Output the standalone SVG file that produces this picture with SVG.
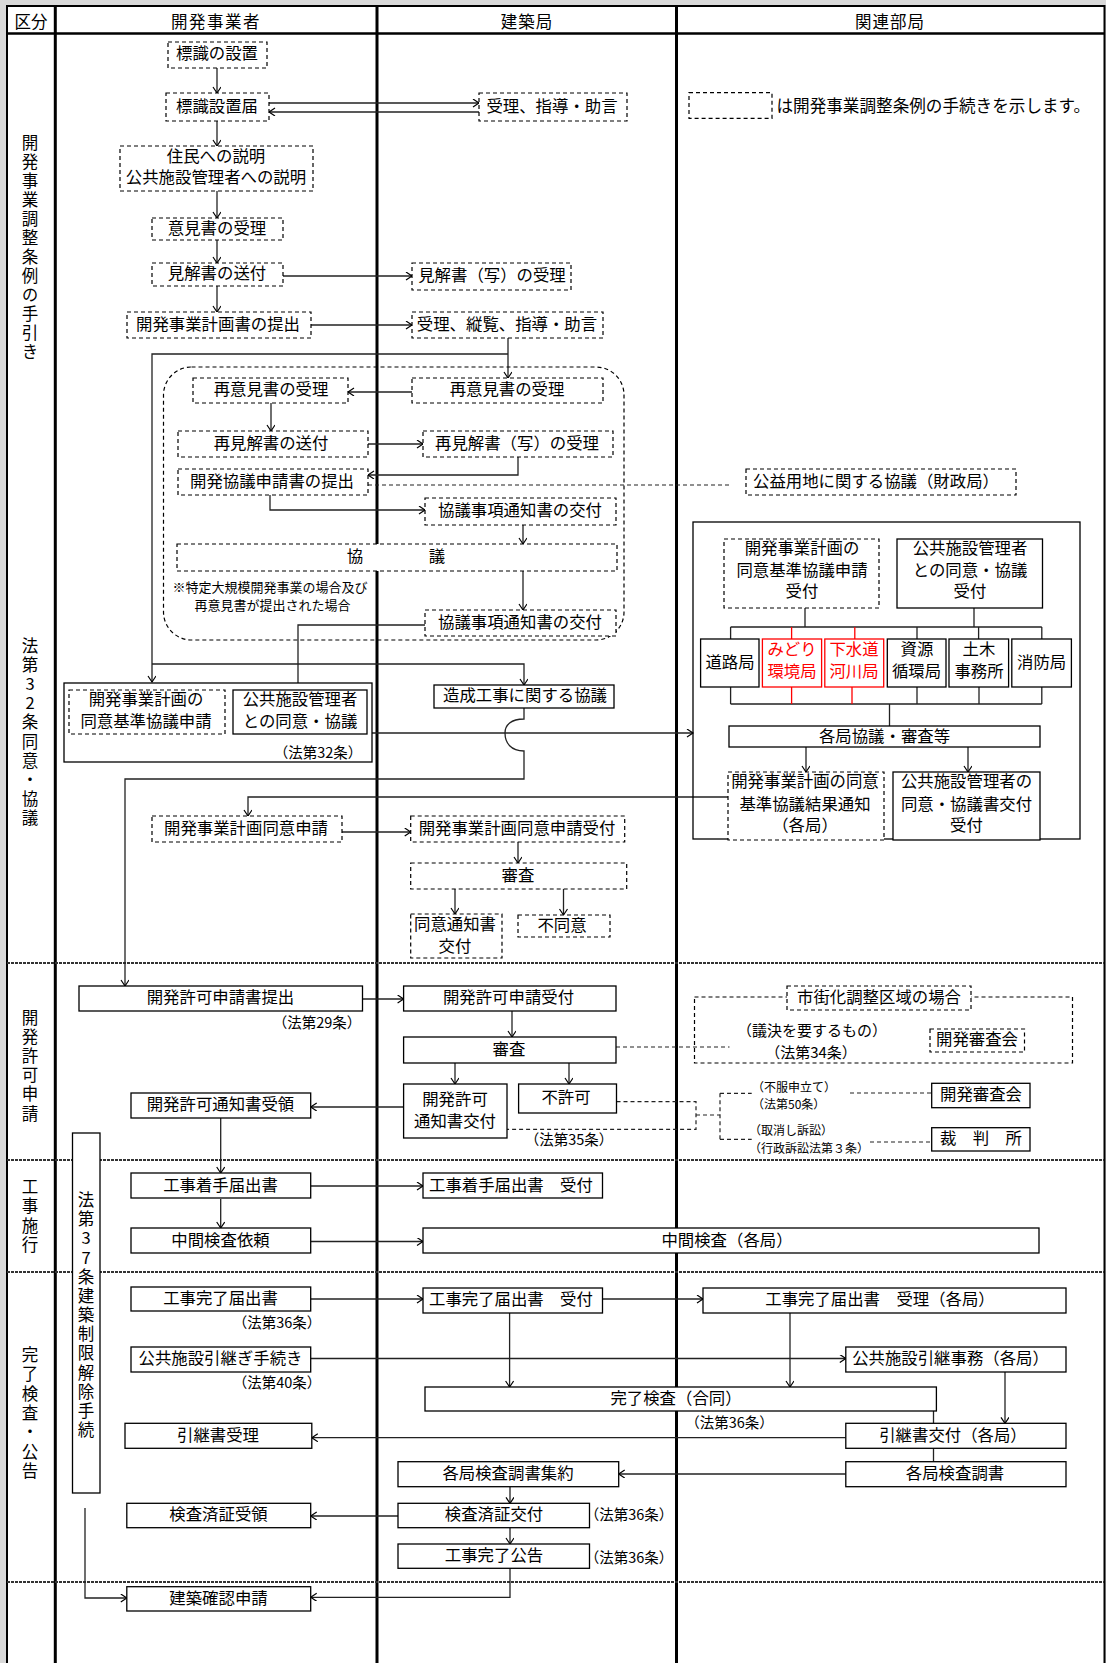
<svg xmlns="http://www.w3.org/2000/svg" width="1106" height="1663" viewBox="0 0 1106 1663">
<defs>
<style>
text{font-family:'Noto Sans CJK JP','Noto Sans CJK SC',sans-serif;fill:#000;dominant-baseline:central}
.t{font-size:16.4px;text-anchor:middle;transform:translateY(-2.5px)}
.ts{font-size:16.4px;text-anchor:start;transform:translateY(-2.5px)}
.h{font-size:16.5px;text-anchor:middle}
.v{font-size:16.5px;text-anchor:start;writing-mode:vertical-rl;text-orientation:upright}
.law{font-size:14.5px;text-anchor:middle;transform:translateY(-2px)}
.sm{font-size:12px;text-anchor:start;transform:translateY(-1px)}
.note{font-size:13px;text-anchor:middle;transform:translateY(-2px)}
.red{fill:#f00}
.b{fill:#fff;stroke:#000;stroke-width:1.3}
.nf{fill:none;stroke:#000;stroke-width:1.3}
.d{fill:#fff;stroke:#000;stroke-width:1.2;stroke-dasharray:4 3}
.dn{fill:none;stroke:#000;stroke-width:1.2;stroke-dasharray:4 3}
.r{fill:#fff;stroke:#f00;stroke-width:1.3}
.c{fill:none;stroke:#222;stroke-width:1.3}
.cr{fill:none;stroke:#f00;stroke-width:1.3}
.cd{fill:none;stroke:#222;stroke-width:1.2;stroke-dasharray:4 3}
.a{marker-end:url(#ar)}
.sep{stroke:#333;stroke-width:2.2;stroke-dasharray:3 1}
.col{stroke:#000;stroke-width:3}
</style>
<marker id="ar" markerUnits="userSpaceOnUse" markerWidth="10" markerHeight="10" refX="7" refY="4" orient="auto">
<path d="M1,0 L7,4 L1,8" fill="none" stroke="#000" stroke-width="1.2"/>
</marker>
</defs>
<rect width="1106" height="1663" fill="#d9d9d9"/>
<rect x="7" y="6" width="1097" height="1657" fill="#fff"/>
<g id="grid">
<line x1="7" y1="6" x2="1105" y2="6" stroke="#000" stroke-width="2"/>
<line x1="7" y1="33.5" x2="1105" y2="33.5" stroke="#000" stroke-width="2.5"/>
<line x1="7" y1="5" x2="7" y2="1663" stroke="#000" stroke-width="2"/>
<line class="col" x1="55.3" y1="5" x2="55.3" y2="1663"/>
<line class="col" x1="377" y1="5" x2="377" y2="1663"/>
<line class="col" x1="676.5" y1="5" x2="676.5" y2="1663"/>
<line x1="1104.5" y1="5" x2="1104.5" y2="1663" stroke="#000" stroke-width="2"/>
<line class="sep" x1="7" y1="963" x2="1104" y2="963"/>
<line class="sep" x1="7" y1="1160" x2="1104" y2="1160"/>
<line class="sep" x1="7" y1="1272" x2="1104" y2="1272"/>
<line class="sep" x1="7" y1="1582" x2="1104" y2="1582"/>
</g>
<g id="header">
<text class="h" x="31" y="21">区分</text>
<text class="h" x="216" y="21" letter-spacing="1.5">開発事業者</text>
<text class="h" x="527" y="21" letter-spacing="1">建築局</text>
<text class="h" x="890" y="21" letter-spacing="1">関連部局</text>
</g>
<g id="section-labels">
<text class="v" x="30" y="134.5" letter-spacing="2.5">開発事業調整条例の手引き</text>
<text class="v" x="30" y="637.5" letter-spacing="2.6">法第32条同意・協議</text>
<text class="v" x="30" y="1009" letter-spacing="2.7">開発許可申請</text>
<text class="v" x="30" y="1178.5" letter-spacing="2.8">工事施行</text>
<text class="v" x="30" y="1346.5" letter-spacing="2.8">完了検査・公告</text>
</g>
<g id="legend">
<rect class="d" x="689" y="92.7" width="83" height="25.6"/>
<text class="ts" x="776.5" y="107" style="font-size:16.6px">は開発事業調整条例の手続きを示します。</text>
</g>
<g id="connectors">
<path class="c a" d="M217,68 V93"/>
<path class="c a" d="M269,103 H479"/>
<path class="c a" d="M479,112 H269"/>
<path class="c a" d="M217,121 V146"/>
<path class="c a" d="M217,191 V218"/>
<path class="c a" d="M217,240 V263"/>
<path class="c a" d="M283,276 H412"/>
<path class="c a" d="M217,286 V312"/>
<path class="c a" d="M311,325 H412"/>
<path class="c a" d="M508,338 V378"/>
<path class="c a" d="M508,354 H152 V682"/>
<path class="c a" d="M152,664 H524 V685"/>
<path class="c a" d="M412,392 H348"/>
<path class="c a" d="M271,403 V431"/>
<path class="c a" d="M368,444 H423"/>
<path class="c a" d="M518,457 V475 H368"/>
<path class="cd" d="M368,485 H731"/>
<path class="c a" d="M270,495 V510 H425"/>
<path class="c a" d="M523,525 V544"/>
<path class="c a" d="M523,571 V610"/>
<path class="c a" d="M425,625 H298 V690"/>
<path class="c a" d="M524,708 V719 C511,719 505,725 505,733 C505,743 511,751 524,751 V779 H125 V986"/>
<path class="c a" d="M372,733 H693"/>
<path class="c" d="M805,608 V627 M974,608 V627 M730.6,627 H1041.8 M730.6,627 V639 M917,627 V639 M978.6,627 V639 M1041.8,627 V639"/>
<path class="cr" d="M791.6,627 V639 M854.8,627 V639"/>
<path class="c" d="M730.6,687 V704 M917,687 V704 M979,687 V704 M1041.8,687 V704 M730.6,704 H1041.8 M889.5,704 V726"/>
<path class="cr" d="M791.6,687 V704 M852,687 V704"/>
<path class="c a" d="M806,747 V772"/>
<path class="c a" d="M968,747 V772"/>
<path class="c a" d="M728,797 H248 V816"/>
<path class="c a" d="M342,832 H410.7"/>
<path class="c a" d="M518,842 V863"/>
<path class="c a" d="M455,889 V914"/>
<path class="c a" d="M563.5,889 V915"/>
<path class="c a" d="M362.5,999 H403.6"/>
<path class="c a" d="M512,1011 V1037"/>
<path class="cd" d="M616,1047 H729.5"/>
<path class="c a" d="M455,1063 V1084"/>
<path class="c a" d="M569,1063 V1084"/>
<path class="c a" d="M403.6,1107 H310.7"/>
<path class="cd" d="M616.5,1101.7 H696 V1129.3 H507 M696,1115 H720 M720,1093.3 V1139.3 M720,1093.3 H751.7 M720,1139.3 H751.7"/>
<path class="cd" d="M850,1093 H931.7"/>
<path class="cd" d="M870,1142 H931.7"/>
<path class="c a" d="M220.7,1118 V1173"/>
<path class="c a" d="M310.7,1186 H423"/>
<path class="c a" d="M220.7,1199 V1228"/>
<path class="c a" d="M310.7,1241.5 H423"/>
<path class="c a" d="M310.7,1299 H423"/>
<path class="c a" d="M602.5,1299 H703"/>
<path class="c a" d="M509.6,1313 V1387"/>
<path class="c a" d="M790,1313 V1387"/>
<path class="c a" d="M310.7,1358.5 H845.8"/>
<path class="c a" d="M1005,1372 V1423.3"/>
<path class="c" d="M933.5,1411 V1423.3 M933.5,1448.3 V1461.7"/>
<path class="c a" d="M845.8,1437.7 H311.8"/>
<path class="c a" d="M845.8,1474 H618.7"/>
<path class="c a" d="M510,1486.7 V1503.3"/>
<path class="c a" d="M398,1516 H310.7"/>
<path class="c a" d="M510,1527.7 V1544"/>
<path class="c a" d="M510,1568.3 V1597.3 H310.7"/>
<path class="c a" d="M85,1508 V1598 H126.8"/>
</g>
<g id="group-saiikensho">
<rect class="dn" x="163.5" y="367" width="460.5" height="273" rx="28" ry="28"/>
<text class="note" x="270" y="588">※特定大規模開発事業の場合及び</text>
<text class="note" x="272.5" y="606">再意見書が提出された場合</text>
</g>
<g id="n-hyoshiki"><rect class="d" x="168" y="42" width="99" height="26"/><text class="t" x="217" y="54.5">標識の設置</text></g>
<g id="n-hyoshikitodoke"><rect class="d" x="166" y="93" width="103" height="28"/><text class="t" x="217" y="107">標識設置届</text></g>
<g id="n-juri1"><rect class="d" x="479" y="93" width="148" height="28"/><text class="t" x="552" y="107">受理、指導・助言</text></g>
<g id="n-setsumei"><rect class="d" x="120" y="146" width="193" height="45"/><text class="t" x="216" y="157">住民への説明</text><text class="t" x="216" y="178">公共施設管理者への説明</text></g>
<g id="n-ikensho"><rect class="d" x="152" y="218" width="131" height="22"/><text class="t" x="217" y="229">意見書の受理</text></g>
<g id="n-kenkaisho"><rect class="d" x="152" y="263" width="131" height="23"/><text class="t" x="217" y="274.5">見解書の送付</text></g>
<g id="n-kenkaisho-utsushi"><rect class="d" x="412" y="263" width="159" height="27"/><text class="t" x="492" y="276">見解書（写）の受理</text></g>
<g id="n-keikakusho"><rect class="d" x="127" y="312" width="184" height="26"/><text class="t" x="218" y="325">開発事業計画書の提出</text></g>
<g id="n-juri2"><rect class="d" x="412" y="312" width="191" height="26"/><text class="t" x="507" y="325">受理、縦覧、指導・助言</text></g>
<g id="n-saiiken-dev"><rect class="d" x="193" y="378" width="155" height="25"/><text class="t" x="271" y="390.5">再意見書の受理</text></g>
<g id="n-saiiken-kc"><rect class="d" x="412" y="378" width="191" height="25"/><text class="t" x="507" y="390.5">再意見書の受理</text></g>
<g id="n-saikenkai"><rect class="d" x="178" y="431" width="190" height="26"/><text class="t" x="271" y="444">再見解書の送付</text></g>
<g id="n-saikenkai-utsushi"><rect class="d" x="423" y="431" width="190" height="26"/><text class="t" x="517" y="444">再見解書（写）の受理</text></g>
<g id="n-kyogishinsei"><rect class="d" x="178" y="469" width="190" height="26"/><text class="t" x="272" y="482">開発協議申請書の提出</text></g>
<g id="n-koeki"><rect class="d" x="746" y="469" width="270" height="26"/><text class="t" x="876" y="482">公益用地に関する協議（財政局）</text></g>
<g id="n-tsuchi1"><rect class="d" x="425" y="498" width="191" height="27"/><text class="t" x="520" y="511.5">協議事項通知書の交付</text></g>
<g id="n-kyogi"><rect class="d" x="177" y="544" width="440" height="27"/><text class="t" x="396" y="557.5">協　　　　議</text></g>
<g id="n-tsuchi2"><rect class="d" x="425" y="610" width="191" height="26"/><text class="t" x="520" y="623">協議事項通知書の交付</text></g>
<g id="n-law32">
<rect class="b" x="64" y="683" width="308" height="79"/>
<rect class="d" x="69" y="690" width="156" height="44"/>
<text class="t" x="146" y="700.5">開発事業計画の</text><text class="t" x="146" y="722.5">同意基準協議申請</text>
<rect class="b" x="233" y="690" width="134" height="44"/>
<text class="t" x="300" y="700.5">公共施設管理者</text><text class="t" x="300" y="722.5">との同意・協議</text>
<text class="law" x="318" y="753">（法第32条）</text>
</g>
<g id="n-zosei"><rect class="b" x="434" y="685" width="180" height="23"/><text class="t" x="525" y="696.5">造成工事に関する協議</text></g>
<g id="n-kakukyoku-group">
<rect class="nf" x="693" y="522" width="387" height="317"/>
<rect class="d" x="724" y="539" width="155" height="69"/>
<text class="t" x="802" y="549">開発事業計画の</text><text class="t" x="802" y="571">同意基準協議申請</text><text class="t" x="802" y="592">受付</text>
<rect class="b" x="897" y="539" width="145.5" height="69"/>
<text class="t" x="970" y="549">公共施設管理者</text><text class="t" x="970" y="571">との同意・協議</text><text class="t" x="970" y="592">受付</text>
</g>
<g id="n-doro"><rect class="b" x="700.6" y="639" width="58.4" height="48"/><text class="t" x="730" y="663">道路局</text></g>
<g id="n-midori"><rect class="r" x="762.4" y="639" width="59.2" height="48"/><text class="t red" x="792" y="650.5">みどり</text><text class="t red" x="792" y="672">環境局</text></g>
<g id="n-gesuido"><rect class="r" x="824.8" y="639" width="58.9" height="48"/><text class="t red" x="854" y="650.5">下水道</text><text class="t red" x="854" y="672">河川局</text></g>
<g id="n-shigen"><rect class="b" x="887.3" y="639" width="58.7" height="48"/><text class="t" x="917" y="650.5">資源</text><text class="t" x="916.5" y="672">循環局</text></g>
<g id="n-doboku"><rect class="b" x="949" y="639" width="59.6" height="48"/><text class="t" x="979" y="650.5">土木</text><text class="t" x="979" y="672">事務所</text></g>
<g id="n-shobo"><rect class="b" x="1011.8" y="639" width="59.6" height="48"/><text class="t" x="1041.6" y="663">消防局</text></g>
<g id="n-kakukyoku-kyogi"><rect class="b" x="729" y="726" width="311" height="21"/><text class="t" x="884.5" y="737">各局協議・審査等</text></g>
<g id="n-kekka"><rect class="d" x="728" y="772" width="156" height="68"/><text class="t" x="805" y="782">開発事業計画の同意</text><text class="t" x="805" y="805">基準協議結果通知</text><text class="t" x="805" y="826">（各局）</text></g>
<g id="n-kokyo-kofu"><rect class="b" x="893" y="772" width="147" height="68"/><text class="t" x="966.5" y="782">公共施設管理者の</text><text class="t" x="966.5" y="805">同意・協議書交付</text><text class="t" x="966.5" y="826">受付</text></g>
<g id="n-doishinsei"><rect class="d" x="152" y="816" width="190" height="26"/><text class="t" x="246" y="829">開発事業計画同意申請</text></g>
<g id="n-doishinsei-uketsuke"><rect class="d" x="410.7" y="816" width="214" height="26"/><text class="t" x="517" y="829">開発事業計画同意申請受付</text></g>
<g id="n-shinsa1"><rect class="d" x="410.7" y="863" width="216" height="26"/><text class="t" x="518" y="876">審査</text></g>
<g id="n-doitsuchi"><rect class="d" x="410.7" y="914" width="91.3" height="44"/><text class="t" x="455" y="925">同意通知書</text><text class="t" x="455" y="947">交付</text></g>
<g id="n-fudoi"><rect class="d" x="518" y="915" width="92" height="22"/><text class="t" x="562" y="926.5">不同意</text></g>
<g id="n-kyokashinsei"><rect class="b" x="79" y="986" width="283.5" height="25"/><text class="t" x="220.5" y="998.5">開発許可申請書提出</text><text class="law" x="317" y="1023">（法第29条）</text></g>
<g id="n-kyokashinsei-uketsuke"><rect class="b" x="403.6" y="986" width="212.4" height="25"/><text class="t" x="508.5" y="998.5">開発許可申請受付</text></g>
<g id="n-shinsa2"><rect class="b" x="403.6" y="1037" width="212.4" height="26"/><text class="t" x="509" y="1050">審査</text></g>
<g id="n-shigaika">
<rect class="dn" x="694.5" y="997" width="378" height="66"/>
<rect class="d" x="787" y="986" width="184" height="24"/>
<text class="t" x="879" y="998">市街化調整区域の場合</text>
<text class="law" x="812" y="1031.5" style="font-size:15px">（議決を要するもの）</text>
<text class="law" x="811" y="1053" style="font-size:15px">（法第34条）</text>
<rect class="d" x="930" y="1029" width="94.5" height="23"/><text class="t" x="977" y="1040.5">開発審査会</text>
</g>
<g id="n-kyokatsuchi"><rect class="b" x="403.6" y="1084" width="103.4" height="54"/><text class="t" x="455" y="1100">開発許可</text><text class="t" x="455" y="1122">通知書交付</text></g>
<g id="n-fukyoka"><rect class="b" x="518.6" y="1084" width="97.9" height="29"/><text class="t" x="566" y="1098.5">不許可</text></g>
<g id="n-law35"><text class="law" x="569" y="1140">（法第35条）</text></g>
<g id="n-kyokatsuchi-juryo"><rect class="b" x="131" y="1093" width="179.7" height="25"/><text class="t" x="220.5" y="1105.5">開発許可通知書受領</text></g>
<g id="n-fufuku"><text class="sm" x="752" y="1087">（不服申立て）</text><text class="sm" x="752" y="1104">（法第50条）</text></g>
<g id="n-torikeshi"><text class="sm" x="749" y="1130">（取消し訴訟）</text><text class="sm" x="749" y="1148">（行政訴訟法第３条）</text></g>
<g id="n-shinsakai"><rect class="b" x="931.7" y="1083.3" width="98.3" height="24.4"/><text class="t" x="981" y="1095.5">開発審査会</text></g>
<g id="n-saibansho"><rect class="b" x="931.7" y="1127.7" width="98.3" height="23.3"/><text class="t" x="981" y="1139.5">裁　判　所</text></g>
<g id="n-chakushu"><rect class="b" x="131" y="1173" width="179.7" height="25"/><text class="t" x="220.5" y="1186">工事着手届出書</text></g>
<g id="n-chakushu-uketsuke"><rect class="b" x="423" y="1173" width="179.5" height="25"/><text class="ts" x="429" y="1186">工事着手届出書　受付</text></g>
<g id="n-chukan-irai"><rect class="b" x="131" y="1228" width="179.7" height="25"/><text class="t" x="220.5" y="1241">中間検査依頼</text></g>
<g id="n-chukan"><rect class="b" x="423" y="1228" width="616" height="25"/><text class="t" x="727" y="1241">中間検査（各局）</text></g>
<g id="n-kanryo-todoke"><rect class="b" x="131" y="1287" width="179.7" height="24"/><text class="t" x="220.5" y="1299">工事完了届出書</text><text class="law" x="277" y="1323">（法第36条）</text></g>
<g id="n-kanryo-uketsuke"><rect class="b" x="423" y="1288" width="179.5" height="25"/><text class="ts" x="429" y="1300.5">工事完了届出書　受付</text></g>
<g id="n-kanryo-juri"><rect class="b" x="703" y="1288" width="363" height="25"/><text class="t" x="880" y="1300.5">工事完了届出書　受理（各局）</text></g>
<g id="n-hikitsugi-tetsuzuki"><rect class="b" x="131" y="1347" width="179.7" height="25"/><text class="t" x="220.5" y="1359.5">公共施設引継ぎ手続き</text><text class="law" x="277" y="1383">（法第40条）</text></g>
<g id="n-hikitsugi-jimu"><rect class="b" x="845.8" y="1347" width="220.2" height="25"/><text class="t" x="950.5" y="1359.5">公共施設引継事務（各局）</text></g>
<g id="n-kanryo-kensa"><rect class="b" x="425" y="1387" width="511.4" height="24"/><text class="t" x="676" y="1399">完了検査（合同）</text><text class="law" x="729.5" y="1423">（法第36条）</text></g>
<g id="n-hikitsugi-kofu"><rect class="b" x="845.8" y="1423.3" width="220.2" height="25"/><text class="t" x="953" y="1436">引継書交付（各局）</text></g>
<g id="n-hikitsugi-juri"><rect class="b" x="125" y="1423.3" width="186.8" height="25"/><text class="t" x="218" y="1436">引継書受理</text></g>
<g id="n-kensa-chosho"><rect class="b" x="845.8" y="1461.7" width="220.2" height="25"/><text class="t" x="955" y="1474">各局検査調書</text></g>
<g id="n-chosho-shuyaku"><rect class="b" x="398" y="1461.7" width="220.7" height="25"/><text class="t" x="508" y="1474">各局検査調書集約</text></g>
<g id="n-kensazumi-kofu"><rect class="b" x="398" y="1503.3" width="191.5" height="24.4"/><text class="t" x="494" y="1515.5">検査済証交付</text><text class="law" x="629" y="1515.5">（法第36条）</text></g>
<g id="n-kensazumi-juryo"><rect class="b" x="126.8" y="1503.3" width="183.9" height="24.4"/><text class="t" x="218.5" y="1515.5">検査済証受領</text></g>
<g id="n-kokoku"><rect class="b" x="398" y="1544" width="191.5" height="24.3"/><text class="t" x="494" y="1556">工事完了公告</text><text class="law" x="629" y="1558">（法第36条）</text></g>
<g id="n-kakunin"><rect class="b" x="126.8" y="1586.7" width="183.9" height="24.3"/><text class="t" x="218.5" y="1599">建築確認申請</text></g>
<g id="n-law37"><rect class="b" x="72.5" y="1133" width="27.5" height="360"/>
<text class="v" x="86" y="1191.5" letter-spacing="2.67">法第37条建築制限解除手続</text>
</g>
</svg>
